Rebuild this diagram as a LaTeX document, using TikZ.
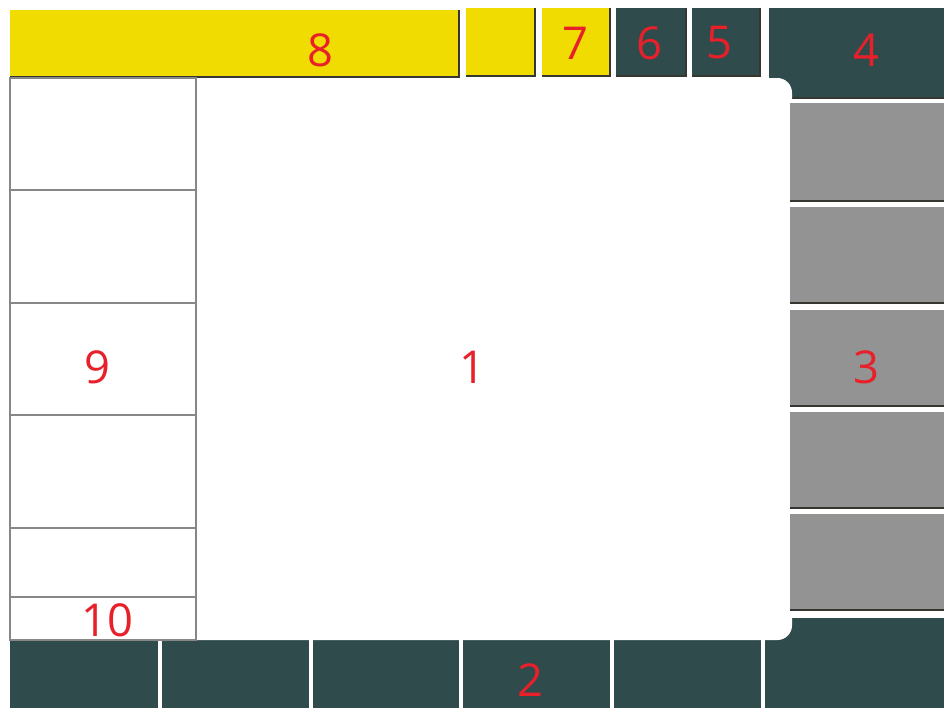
\documentclass[tikz,border=0pt]{standalone}
\usepackage{fontspec}
\setmainfont{Open Sans}
\usepackage{tikz}

\definecolor{panelyellow}{RGB}{240,220,0}
\definecolor{panelteal}{RGB}{47,75,75}
\definecolor{panelgray}{RGB}{147,147,147}
\definecolor{edgedark}{RGB}{55,55,50}
\definecolor{gridgray}{RGB}{135,135,135}
\definecolor{labelred}{RGB}{232,32,42}

\begin{document}
\begin{tikzpicture}[x=0.75pt,y=-0.75pt,
    every node/.style={font=\fontsize{34}{40}\selectfont, text=labelred},
    ybox/.style={fill=panelyellow},
    tbox/.style={fill=panelteal},
    gbox/.style={fill=panelgray},
    edge/.style={draw=edgedark, line width=2pt},
    grid/.style={draw=gridgray, line width=1.2pt}]
                \useasboundingbox[fill=white] (0,0) rectangle (944,708);
                % top row
                \fill[ybox] (10,10) rectangle (460,78);
                \draw[edge] (10,77) -- (459,77) -- (459,10);
                \fill[ybox] (466,8) rectangle (536,77);
                \draw[edge] (466,76) -- (535,76) -- (535,8);
                \fill[ybox] (542,8) rectangle (611,77);
                \draw[edge] (542,76) -- (610,76) -- (610,8);
                \fill[tbox] (616,8) rectangle (687,77);
                \draw[edge] (616,76) -- (686,76) -- (686,8);
                \fill[tbox] (692,8) rectangle (761,77);
                \draw[edge] (692,76) -- (760,76) -- (760,8);
                \fill[tbox] (769,8) rectangle (944,99);
                \draw[edge] (790,98) -- (944,98);
                % bottom row
                \fill[tbox] (10,640) rectangle (158,708);
                \fill[tbox] (162,640) rectangle (309,708);
                \fill[tbox] (313,640) rectangle (459,708);
                \fill[tbox] (463,640) rectangle (610,708);
                \fill[tbox] (614,640) rectangle (761,708);
                \fill[tbox] (765,618) rectangle (944,708);
                % main panel
                \fill[white,rounded corners=11pt] (10,78) rectangle (792,640);
                % side buttons
                \fill[gbox] (790,103) rectangle (944,202);
                \draw[edge] (790,201) -- (944,201);
                \fill[gbox] (790,207) rectangle (944,304);
                \draw[edge] (790,303) -- (944,303);
                \fill[gbox] (790,310) rectangle (944,407);
                \draw[edge] (790,406) -- (944,406);
                \fill[gbox] (790,412) rectangle (944,509);
                \draw[edge] (790,508) -- (944,508);
                \fill[gbox] (790,514) rectangle (944,611);
                \draw[edge] (790,610) -- (944,610);
                % left list
                \draw[grid] (10,78) rectangle (196,640);
                \draw[grid] (10,190) -- (196,190);
                \draw[grid] (10,303) -- (196,303);
                \draw[grid] (10,415) -- (196,415);
                \draw[grid] (10,528) -- (196,528);
                \draw[grid] (10,597) -- (196,597);
                % labels
                \node (n8) at (320,50) {8};
                \node (n7) at (575,43) {7};
                \node (n6) at (649,43) {6};
                \node (n5) at (719,43) {5};
                \node (n4) at (866,50) {4};
                \node (n3) at (866,367) {3};
                \node (n1) at (472,367) {1};
                \node (n9) at (97,367) {9};
                \node (n10) at (107,620) {10};
                \node (n2) at (530,680) {2};
            \end{tikzpicture}
\end{document}
